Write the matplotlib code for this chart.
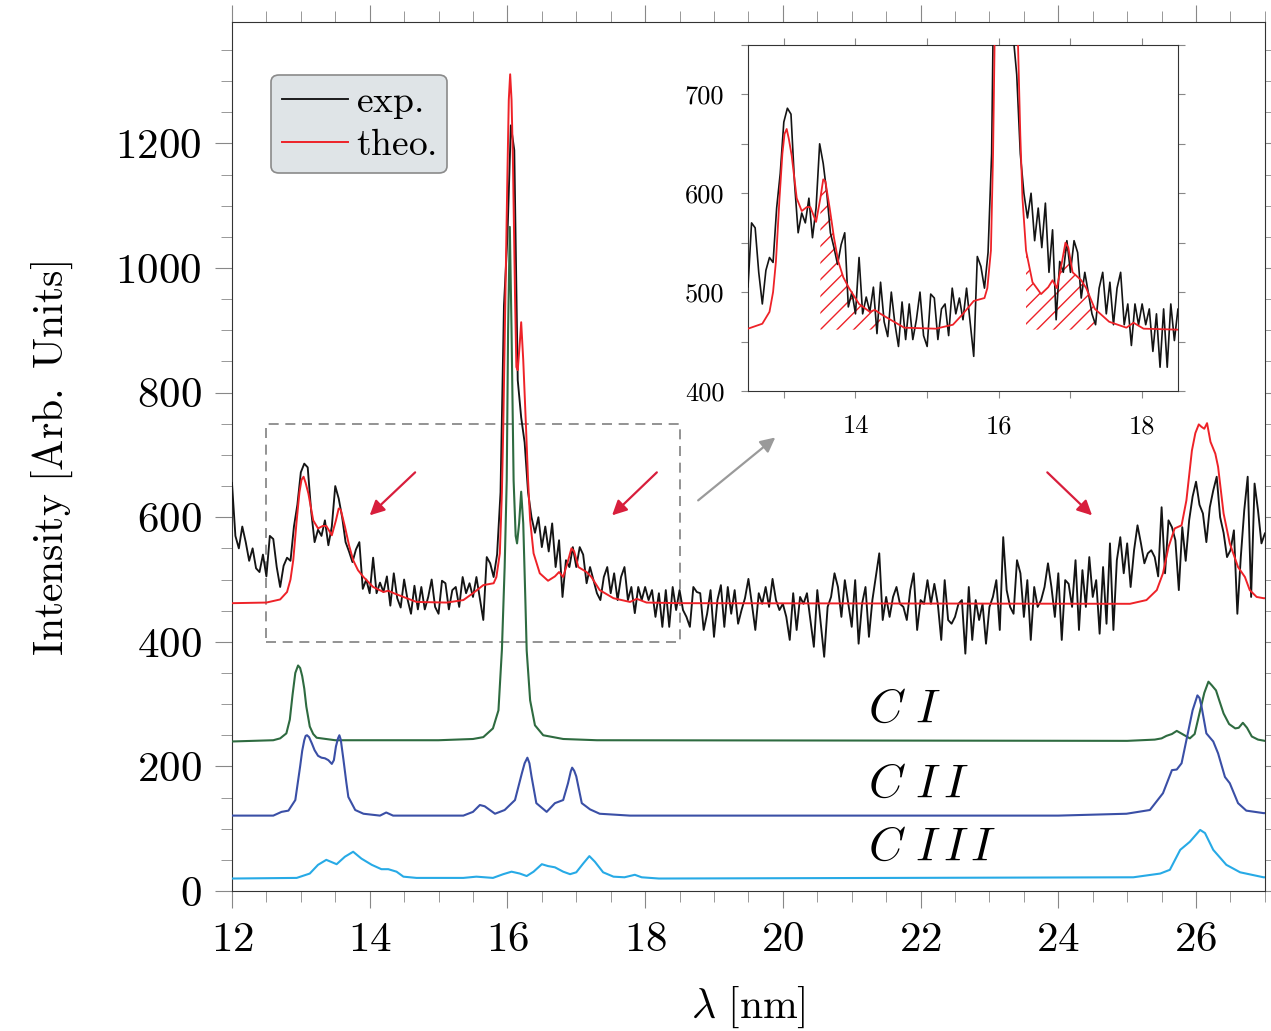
import numpy as np
import matplotlib.pyplot as plt
from matplotlib.patches import Rectangle
from matplotlib.ticker import MultipleLocator, FuncFormatter

plt.rcParams['font.family'] = 'serif'
plt.rcParams['font.serif'] = ['cmr10', 'DejaVu Serif']
plt.rcParams['mathtext.fontset'] = 'cm'
plt.rcParams['axes.formatter.use_mathtext'] = True
plt.rcParams['hatch.linewidth'] = 1.0

# measured spectrum, sampled every 0.05 nm from 12 to 27 nm
exp_counts = [
    655, 570, 550, 585, 560, 530, 550, 518, 512, 540, 505, 570, 565, 520, 488, 522, 535, 530, 585, 620,
    672, 686, 680, 610, 560, 580, 570, 595, 555, 585, 650, 630, 600, 560, 545, 528, 548, 560, 485, 500,
    478, 535, 478, 495, 480, 505, 458, 510, 470, 455, 500, 468, 445, 490, 452, 488, 452, 472, 500, 456,
    445, 498, 494, 452, 483, 488, 456, 504, 478, 494, 472, 504, 470, 435, 536, 526, 504, 540, 640, 940,
    1050, 1229, 1189, 820, 760, 720, 640, 600, 575, 600, 552, 585, 545, 590, 520, 563, 472, 531, 520, 552,
    520, 552, 540, 494, 520, 499, 478, 467, 504, 520, 478, 510, 467, 504, 520, 467, 488, 446, 488, 467,
    488, 467, 483, 440, 478, 424, 483, 424, 488, 451, 483, 451, 440, 424, 488, 480, 478, 419, 445, 483,
    408, 467, 491, 424, 488, 445, 483, 429, 451, 470, 501, 461, 419, 478, 461, 488, 456, 501, 467, 451,
    461, 440, 403, 478, 419, 472, 461, 478, 435, 392, 483, 430, 376, 456, 472, 510, 488, 440, 499, 461,
    424, 499, 397, 461, 488, 408, 467, 504, 542, 435, 472, 440, 472, 488, 461, 456, 435, 483, 510, 419,
    467, 461, 499, 461, 493, 461, 403, 499, 435, 429, 440, 461, 467, 381, 488, 403, 467, 435, 461, 397,
    456, 472, 499, 419, 568, 483, 456, 445, 531, 510, 440, 499, 403, 488, 456, 467, 488, 526, 488, 440,
    510, 403, 499, 493, 456, 531, 419, 515, 456, 536, 472, 499, 413, 520, 429, 558, 419, 531, 568, 510,
    558, 488, 547, 587, 558, 526, 542, 547, 536, 505, 616, 510, 595, 584, 563, 483, 584, 530, 595, 633,
    657, 620, 606, 560, 616, 643, 665, 600, 575, 536, 547, 579, 445, 536, 611, 665, 472, 654, 611, 558,
    574,
]
lam_exp = np.linspace(12.0, 27.0, len(exp_counts))

# theoretical total spectrum
lam_theo = [12.0, 12.5, 12.7, 12.8, 12.85, 12.89, 12.94, 12.98, 13.01, 13.04, 13.07, 13.11, 13.18,
            13.25, 13.32, 13.37, 13.45, 13.51, 13.55, 13.58, 13.64, 13.7, 13.76, 13.83, 13.91, 14.05,
            14.2, 14.27, 14.35, 14.49, 14.68, 15.12, 15.36, 15.5, 15.65, 15.8, 15.84, 15.89, 15.92,
            15.94, 15.97, 16.0, 16.02, 16.04, 16.06, 16.08, 16.11, 16.13, 16.15, 16.18, 16.2, 16.23,
            16.27, 16.3, 16.33, 16.38, 16.47, 16.59, 16.69, 16.75, 16.81, 16.88, 16.93, 16.97, 17.03,
            17.15, 17.22, 17.34, 17.54, 17.78, 17.88, 18.02, 18.5, 25.04, 25.28, 25.43, 25.52, 25.6,
            25.69, 25.79, 25.86, 25.94, 25.99, 26.04, 26.08, 26.12, 26.16, 26.21, 26.28, 26.32, 26.4,
            26.49, 26.61, 26.71, 26.78, 26.88, 26.98, 27.0]
theo = [462, 463, 468, 480, 500, 531, 595, 640, 660, 665, 655, 638, 595,
        582, 586, 586, 571, 595, 614, 612, 585, 555, 531, 515, 504, 488,
        480, 482, 478, 472, 464, 463, 467, 478, 491, 494, 504, 542, 640,
        745, 950, 1150, 1270, 1311, 1270, 1173, 959, 841, 836, 880, 913, 852,
        745, 659, 595, 542, 510, 498, 505, 512, 504, 530, 550, 545, 520,
        512, 504, 483, 470, 464, 469, 463, 462, 461, 467, 483, 510, 552,
        582, 587, 627, 707, 735, 749, 745, 742, 751, 721, 702, 681, 606,
        558, 520, 504, 483, 472, 470, 470]

# C I contribution
lam_c1 = [12.0, 12.6, 12.7, 12.79, 12.84, 12.88, 12.92, 12.96, 12.99, 13.02, 13.05, 13.08, 13.13,
          13.18, 13.23, 13.5, 15.0, 15.5, 15.65, 15.79, 15.87, 15.92, 15.96, 15.99, 16.01, 16.035,
          16.06, 16.09, 16.12, 16.14, 16.17, 16.2, 16.23, 16.26, 16.28, 16.33, 16.4, 16.52, 16.81,
          17.3, 25.0, 25.4, 25.5, 25.57, 25.65, 25.72, 25.8, 25.91, 25.98, 26.06, 26.12, 26.18,
          26.23, 26.29, 26.34, 26.4, 26.48, 26.57, 26.62, 26.68, 26.74, 26.81, 26.9, 27.0]
c1 = [240, 242, 245, 253, 275, 315, 350, 362, 358, 345, 325, 296, 264,
      252, 246, 242, 242, 244, 247, 261, 290, 387, 520, 659, 900, 1066,
      900, 659, 570, 558, 590, 641, 590, 470, 386, 306, 266, 250, 244,
      242, 241, 243, 245, 249, 252, 257, 252, 245, 252, 290, 318, 336,
      330, 322, 305, 285, 268, 261, 262, 270, 262, 248, 243, 241]

# C II contribution
lam_c2 = [12.0, 12.6, 12.72, 12.82, 12.92, 12.99, 13.02, 13.05, 13.07, 13.09, 13.12, 13.16, 13.2,
          13.25, 13.3, 13.35, 13.4, 13.45, 13.48, 13.51, 13.54, 13.56, 13.58, 13.62, 13.66, 13.69,
          13.79, 13.91, 14.15, 14.24, 14.34, 15.36, 15.5, 15.6, 15.67, 15.82, 15.96, 16.11, 16.21,
          16.25, 16.29, 16.32, 16.35, 16.42, 16.57, 16.69, 16.81, 16.88, 16.92, 16.94, 16.97, 17.0,
          17.08, 17.2, 17.34, 17.78, 24.0, 24.99, 25.33, 25.52, 25.65, 25.72, 25.79, 25.89, 25.95,
          26.02, 26.05, 26.08, 26.15, 26.25, 26.32, 26.42, 26.49, 26.61, 26.73, 26.98, 27.0]
c2 = [121, 121, 127, 129, 146, 200, 225, 242, 249, 250, 247, 237, 226,
      217, 214, 213, 210, 204, 210, 232, 245, 250, 243, 210, 175, 151,
      130, 124, 121, 126, 121, 121, 127, 138, 136, 124, 130, 146, 189,
      205, 214, 205, 184, 141, 127, 141, 146, 173, 192, 198, 193, 184,
      141, 131, 124, 121, 121, 124, 130, 157, 194, 195, 205, 258, 290,
      314, 310, 296, 253, 240, 221, 183, 173, 141, 129, 125, 125]

# C III contribution
lam_c3 = [12.0, 12.94, 13.13, 13.25, 13.37, 13.52, 13.64, 13.76, 13.88, 14.03, 14.17, 14.27, 14.39,
          14.49, 14.68, 15.36, 15.55, 15.79, 15.94, 16.06, 16.18, 16.28, 16.38, 16.5, 16.59, 16.69,
          16.81, 16.91, 17.0, 17.1, 17.19, 17.27, 17.39, 17.54, 17.7, 17.85, 17.95, 18.2, 25.09,
          25.48, 25.62, 25.77, 25.91, 26.06, 26.13, 26.25, 26.44, 26.64, 26.98, 27.0]
c3 = [20, 21, 28, 42, 50, 43, 55, 63, 52, 42, 35, 35, 31,
      23, 21, 21, 23, 21, 27, 31, 28, 24, 31, 43, 40, 38,
      31, 27, 30, 44, 56, 47, 30, 23, 22, 26, 22, 20, 22,
      28, 34, 66, 79, 98, 93, 66, 42, 30, 22, 22]

# wavelength spans shaded in the zoom panel
hatch_spans = [(13.5, 14.45), (16.37, 17.46)]
hatch_floor = 462

RED = '#ee2228'
BLACK = '#141414'
GREEN = '#2e6b40'
BLUE = '#3a4fa6'
CYAN = '#27aae6'
ARROW_RED = '#d81e3c'

fig = plt.figure(figsize=(12.71, 10.31), dpi=100)
ax = fig.add_axes([0.1825, 0.1358, 0.8127, 0.8429])

ax.plot(lam_exp, exp_counts, color=BLACK, lw=1.35, label=r'$\mathrm{exp.}$', zorder=3)
ax.plot(lam_theo, theo, color=RED, lw=1.4, label=r'$\mathrm{theo.}$', zorder=4)
ax.plot(lam_c1, c1, color=GREEN, lw=1.5, zorder=3)
ax.plot(lam_c2, c2, color=BLUE, lw=1.5, zorder=3)
ax.plot(lam_c3, c3, color=CYAN, lw=1.5, zorder=3)

ax.set_xlim(12, 27)
ax.set_ylim(0, 1395)
ax.xaxis.set_major_locator(MultipleLocator(2))
ax.xaxis.set_minor_locator(MultipleLocator(0.5))
ax.yaxis.set_major_locator(MultipleLocator(200))
ax.yaxis.set_minor_locator(MultipleLocator(50))
ax.tick_params(which='both', direction='out', top=True, right=True, color='#888888',
               labelsize=31, pad=10)
ax.tick_params(which='major', length=12)
ax.tick_params(which='minor', length=8)
for sp in ax.spines.values():
    sp.set_color('#333333')

ax.set_ylabel(r'$\mathrm{Intensity\ [Arb.\ Units]}$', fontsize=30)
ax.yaxis.set_label_coords(-0.152, 0.497)
ax.set_xlabel(r'$\lambda\ \mathrm{[nm]}$', fontsize=30)
ax.xaxis.set_label_coords(0.5, -0.108)

ax.add_patch(Rectangle((12.5, 400), 6, 350, fill=False, ec='#808080', lw=1.2,
                       ls=(0, (6, 4)), zorder=2))

ax.text(21.24, 290, r'$C\ I$', fontsize=34, va='center', ha='left')
ax.text(21.24, 170, r'$C\ I\,I$', fontsize=34, va='center', ha='left')
ax.text(21.24, 69, r'$C\ I\,I\,I$', fontsize=34, va='center', ha='left')

arrow_kw = dict(arrowstyle='-|>', lw=1.6, mutation_scale=22, shrinkA=0, shrinkB=0)
for start, end in [((14.66, 672), (14.0, 603)), ((18.17, 672), (17.52, 603)),
                   ((23.84, 672), (24.49, 603))]:
    ax.annotate('', xy=end, xytext=start, arrowprops=dict(color=ARROW_RED, **arrow_kw))
ax.annotate('', xy=(19.89, 728), xytext=(18.77, 627),
            arrowprops=dict(color='#9a9a9a', **arrow_kw))

leg = ax.legend(loc='upper left', bbox_to_anchor=(0.038, 0.939), fontsize=27, frameon=True,
                fancybox=True, framealpha=1, facecolor='#dfe4e7', edgecolor='#8a8a8a',
                handlelength=1.75, borderpad=0.3, labelspacing=0.2, handletextpad=0.2,
                borderaxespad=0)
leg.get_frame().set_linewidth(1.2)

# zoom panel
axi = fig.add_axes([0.5885, 0.6208, 0.3383, 0.3356])
lam_theo_arr = np.array(lam_theo)
mask = np.zeros(len(lam_theo), dtype=bool)
for lo, hi in hatch_spans:
    mask |= (lam_theo_arr >= lo) & (lam_theo_arr <= hi)
axi.fill_between(lam_theo, hatch_floor, theo, where=mask, facecolor='none', edgecolor=RED,
                 hatch='//', linewidth=0, zorder=2)
axi.plot(lam_exp, exp_counts, color=BLACK, lw=1.2, zorder=3)
axi.plot(lam_theo, theo, color=RED, lw=1.3, zorder=4)
axi.set_xlim(12.5, 18.5)
axi.set_ylim(400, 750)
axi.xaxis.set_major_locator(MultipleLocator(1))
axi.yaxis.set_major_locator(MultipleLocator(50))
axi.xaxis.set_major_formatter(FuncFormatter(lambda v, p: f'{v:.0f}' if round(v) % 2 == 0 else ''))
axi.yaxis.set_major_formatter(FuncFormatter(lambda v, p: f'{v:.0f}' if round(v) % 100 == 0 else ''))
axi.tick_params(which='both', direction='out', top=True, right=True, color='#888888',
                labelsize=19, length=5, pad=12)
for sp in axi.spines.values():
    sp.set_color('#333333')

fig.savefig('out.png', dpi=100)
